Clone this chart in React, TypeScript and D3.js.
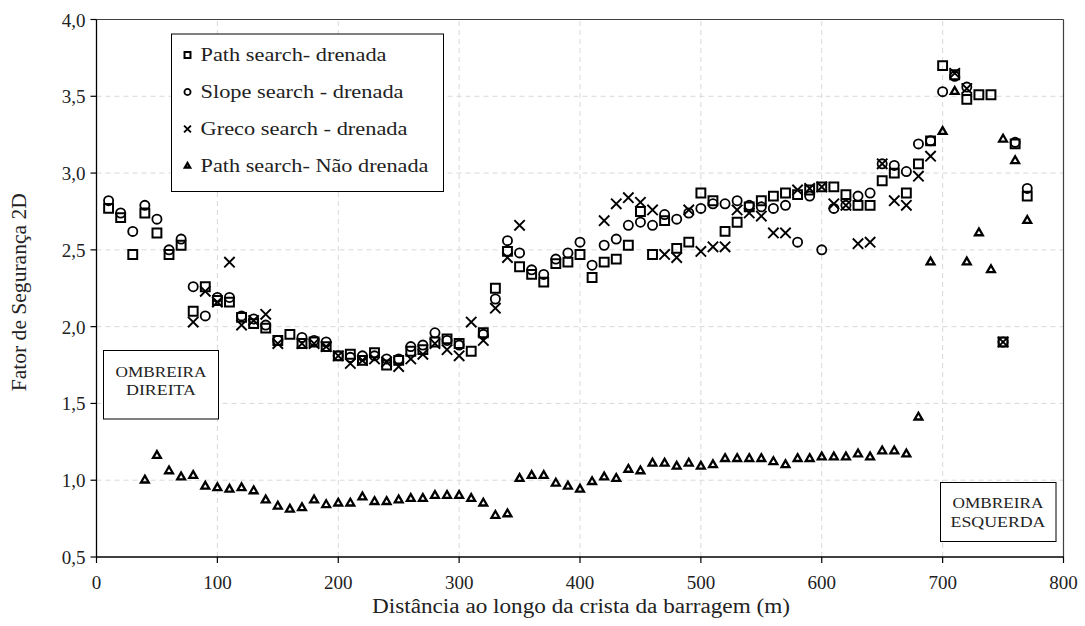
import React from 'react';
import * as d3 from 'd3';

// distância ao longo da crista (m)
const distances = [
  10, 20, 30, 40, 50, 60, 70, 80, 90, 100,
  110, 120, 130, 140, 150, 160, 170, 180, 190, 200,
  210, 220, 230, 240, 250, 260, 270, 280, 290, 300,
  310, 320, 330, 340, 350, 360, 370, 380, 390, 400,
  410, 420, 430, 440, 450, 460, 470, 480, 490, 500,
  510, 520, 530, 540, 550, 560, 570, 580, 590, 600,
  610, 620, 630, 640, 650, 660, 670, 680, 690, 700,
  710, 720, 730, 740, 750, 760, 770,
];

const pathDrenada = [
  2.77, 2.71, 2.47, 2.74, 2.61, 2.47, 2.53, 2.10, 2.26, 2.17,
  2.16, 2.06, 2.02, 1.99, 1.91, 1.95, 1.89, 1.90, 1.87, 1.81,
  1.82, 1.78, 1.83, 1.75, 1.78, 1.84, 1.85, 1.90, 1.92, 1.89,
  1.84, 1.96, 2.25, 2.49, 2.39, 2.34, 2.29, 2.41, 2.42, 2.47,
  2.32, 2.42, 2.44, 2.53, 2.75, 2.47, 2.69, 2.51, 2.55, 2.87,
  2.82, 2.62, 2.68, 2.78, 2.82, 2.85, 2.87, 2.86, 2.89, 2.91,
  2.91, 2.86, 2.79, 2.79, 2.95, 3.00, 2.87, 3.06, 3.21, 3.70,
  3.64, 3.48, 3.51, 3.51, 1.90, 3.19, 2.85,
];

const slopeDrenada = [
  2.82, 2.74, 2.62, 2.79, 2.70, 2.50, 2.57, 2.26, 2.07, 2.19,
  2.19, 2.07, 2.05, 2.01, 1.91, null, 1.93, 1.91, 1.90, 1.81,
  1.80, 1.81, 1.81, 1.79, 1.79, 1.87, 1.88, 1.96, 1.91, 1.88,
  null, 1.95, 2.18, 2.56, 2.48, 2.37, 2.34, 2.44, 2.48, 2.55,
  2.40, 2.53, 2.57, 2.66, 2.68, 2.66, 2.73, 2.70, 2.74, 2.77,
  2.80, 2.80, 2.82, 2.79, 2.78, 2.77, 2.79, 2.55, 2.85, 2.50,
  2.77, 2.79, 2.85, 2.87, 3.06, 3.05, 3.01, 3.19, 3.21, 3.53,
  3.63, 3.56, null, null, 1.90, 3.20, 2.90,
];

const grecoDrenada = [
  null, null, null, null, null, null, null, 2.03, 2.23, 2.16,
  2.42, 2.01, 2.04, 2.08, 1.89, null, 1.89, 1.89, 1.87, 1.81,
  1.76, 1.78, 1.79, 1.77, 1.74, 1.79, 1.82, 1.89, 1.85, 1.81,
  2.03, 1.91, 2.12, 2.45, 2.66, null, null, null, null, null,
  null, 2.69, 2.80, 2.84, 2.81, 2.76, 2.47, 2.45, 2.76, 2.49,
  2.52, 2.52, 2.76, 2.74, 2.72, 2.61, 2.61, 2.89, 2.90, 2.91,
  2.80, 2.79, 2.54, 2.55, 3.06, 2.82, 2.79, 2.98, 3.11, null,
  3.65, 3.55, null, null, 1.90, null, null,
];

const pathNaoDrenada = [
  null, null, null, 1.00, 1.16, 1.06, 1.02, 1.03, 0.96, 0.95,
  0.94, 0.95, 0.93, 0.87, 0.83, 0.81, 0.82, 0.87, 0.84, 0.85,
  0.85, 0.89, 0.86, 0.86, 0.87, 0.88, 0.88, 0.90, 0.90, 0.90,
  0.88, 0.85, 0.77, 0.78, 1.01, 1.03, 1.03, 0.98, 0.96, 0.94,
  0.99, 1.02, 1.01, 1.07, 1.06, 1.11, 1.11, 1.09, 1.11, 1.09,
  1.10, 1.14, 1.14, 1.14, 1.14, 1.12, 1.10, 1.14, 1.14, 1.15,
  1.15, 1.15, 1.17, 1.15, 1.19, 1.19, 1.17, 1.41, 2.42, 3.27,
  3.53, 2.42, 2.61, 2.37, 3.22, 3.08, 2.69,
];

const xTicks = [0, 100, 200, 300, 400, 500, 600, 700, 800];
const yTicks = [0.5, 1.0, 1.5, 2.0, 2.5, 3.0, 3.5, 4.0];

const seriesNames = [
  'Path search- drenada',
  'Slope search - drenada',
  'Greco search - drenada',
  'Path search- Não drenada',
];
// larguras medidas na figura original (texto levemente esticado)
const legendWidths = [186, 203, 207, 228];

const W = 1085;
const H = 626;
const margin = { top: 19.5, right: 21.5, bottom: 69, left: 96.5 };
const FONT = "'Liberation Serif', 'Times New Roman', Times, serif";

const series = [
  { name: seriesNames[0], values: pathDrenada, type: d3.symbolSquare2, size: 100, sw: 2 },
  { name: seriesNames[1], values: slopeDrenada, type: d3.symbolCircle, size: 66, sw: 1.8 },
  { name: seriesNames[2], values: grecoDrenada, type: d3.symbolTimes, size: 72, sw: 1.9 },
  { name: seriesNames[3], values: pathNaoDrenada, type: d3.symbolTriangle2, size: 44, sw: 2.3 },
];

export default function App() {
  const x = d3.scaleLinear().domain([0, 800]).range([margin.left, W - margin.right]);
  const y = d3.scaleLinear().domain([0.5, 4.0]).range([H - margin.bottom, margin.top]);
  const fmt = (v: number) => v.toFixed(1).replace('.', ',');

  const x0 = x(0), x1 = x(800), y0 = y(0.5), y1 = y(4.0);

  return (
    <svg width={W} height={H} style={{ position: 'absolute', left: 0, top: 0, background: '#fff', fontFamily: FONT }}>
      {/* grid */}
      {yTicks.slice(1, -1).map(t => (
        <line key={'gy' + t} x1={x0} x2={x1} y1={y(t)} y2={y(t)}
          stroke="#d9d9d9" strokeWidth={1} strokeDasharray="5,4" />
      ))}
      {xTicks.slice(1, -1).map(t => (
        <line key={'gx' + t} x1={x(t)} x2={x(t)} y1={y0} y2={y1}
          stroke="#d9d9d9" strokeWidth={1} strokeDasharray="5,4" />
      ))}

      {/* borda */}
      <line x1={x0} x2={x1} y1={y1} y2={y1} stroke="#404040" strokeWidth={1} />
      <line x1={x1} x2={x1} y1={y1} y2={y0} stroke="#404040" strokeWidth={1.2} />

      {/* eixos */}
      <line x1={x0} x2={x1} y1={y0} y2={y0} stroke="#000" strokeWidth={1.3} />
      <line x1={x0} x2={x0} y1={y0} y2={y1} stroke="#000" strokeWidth={1.3} />
      {xTicks.map(t => (
        <g key={'tx' + t}>
          <line x1={x(t)} x2={x(t)} y1={y0} y2={y0 + 6} stroke="#000" strokeWidth={1.2} />
          <text x={x(t)} y={y0 + 32} textAnchor="middle" fontSize={19} fill="#222">{t}</text>
        </g>
      ))}
      {yTicks.map(t => (
        <g key={'ty' + t}>
          <line x1={x0 - 6} x2={x0} y1={y(t)} y2={y(t)} stroke="#000" strokeWidth={1.2} />
          <text x={x0 - 11} y={y(t) + 7} textAnchor="end" fontSize={19} fill="#222">{fmt(t)}</text>
        </g>
      ))}

      <text x={(x0 + x1) / 2 + 1} y={613} textAnchor="middle" fontSize={20} fill="#222"
        textLength={418} lengthAdjust="spacingAndGlyphs">
        Distância ao longo da crista da barragem (m)
      </text>
      <text transform={`translate(26, ${(y0 + y1) / 2 + 4}) rotate(-90)`} textAnchor="middle"
        fontSize={20} fill="#222" textLength={198} lengthAdjust="spacingAndGlyphs">
        Fator de Segurança 2D
      </text>

      {/* pontos */}
      {series.map((s, si) => {
        const path = d3.symbol().type(s.type).size(s.size)();
        return (
          <g key={'s' + si}>
            {s.values.map((v, i) => v == null ? null : (
              <path key={i} d={path as string}
                transform={`translate(${x(distances[i])}, ${y(v)})`}
                fill="none" stroke="#000" strokeWidth={s.sw} />
            ))}
          </g>
        );
      })}

      {/* legenda */}
      <g>
        <rect x={171.5} y={34} width={272} height={157.5} fill="#fff" stroke="#000" strokeWidth={1} />
        {series.map((s, i) => {
          const path = d3.symbol().type(s.type).size(s.size * 0.45)();
          const cy = 55 + i * 37;
          return (
            <g key={'l' + i}>
              <path d={path as string} transform={`translate(187.5, ${cy})`}
                fill="none" stroke="#000" strokeWidth={s.sw} />
              <text x={200.5} y={cy + 6} fontSize={19} fill="#222"
                textLength={legendWidths[i]} lengthAdjust="spacingAndGlyphs">{s.name}</text>
            </g>
          );
        })}
      </g>

      {/* ombreiras */}
      <rect x={103.5} y={350.5} width={115} height={68.5} fill="#fff" stroke="#000" strokeWidth={1} />
      <text x={161} y={377} textAnchor="middle" fontSize={15} fill="#222"
        textLength={91} lengthAdjust="spacingAndGlyphs">OMBREIRA</text>
      <text x={161} y={395} textAnchor="middle" fontSize={15} fill="#222"
        textLength={70} lengthAdjust="spacingAndGlyphs">DIREITA</text>

      <rect x={940.5} y={482.5} width={115.5} height={59} fill="#fff" stroke="#000" strokeWidth={1} />
      <text x={998} y={508} textAnchor="middle" fontSize={15} fill="#222"
        textLength={91} lengthAdjust="spacingAndGlyphs">OMBREIRA</text>
      <text x={998} y={527} textAnchor="middle" fontSize={15} fill="#222"
        textLength={95} lengthAdjust="spacingAndGlyphs">ESQUERDA</text>
    </svg>
  );
}
